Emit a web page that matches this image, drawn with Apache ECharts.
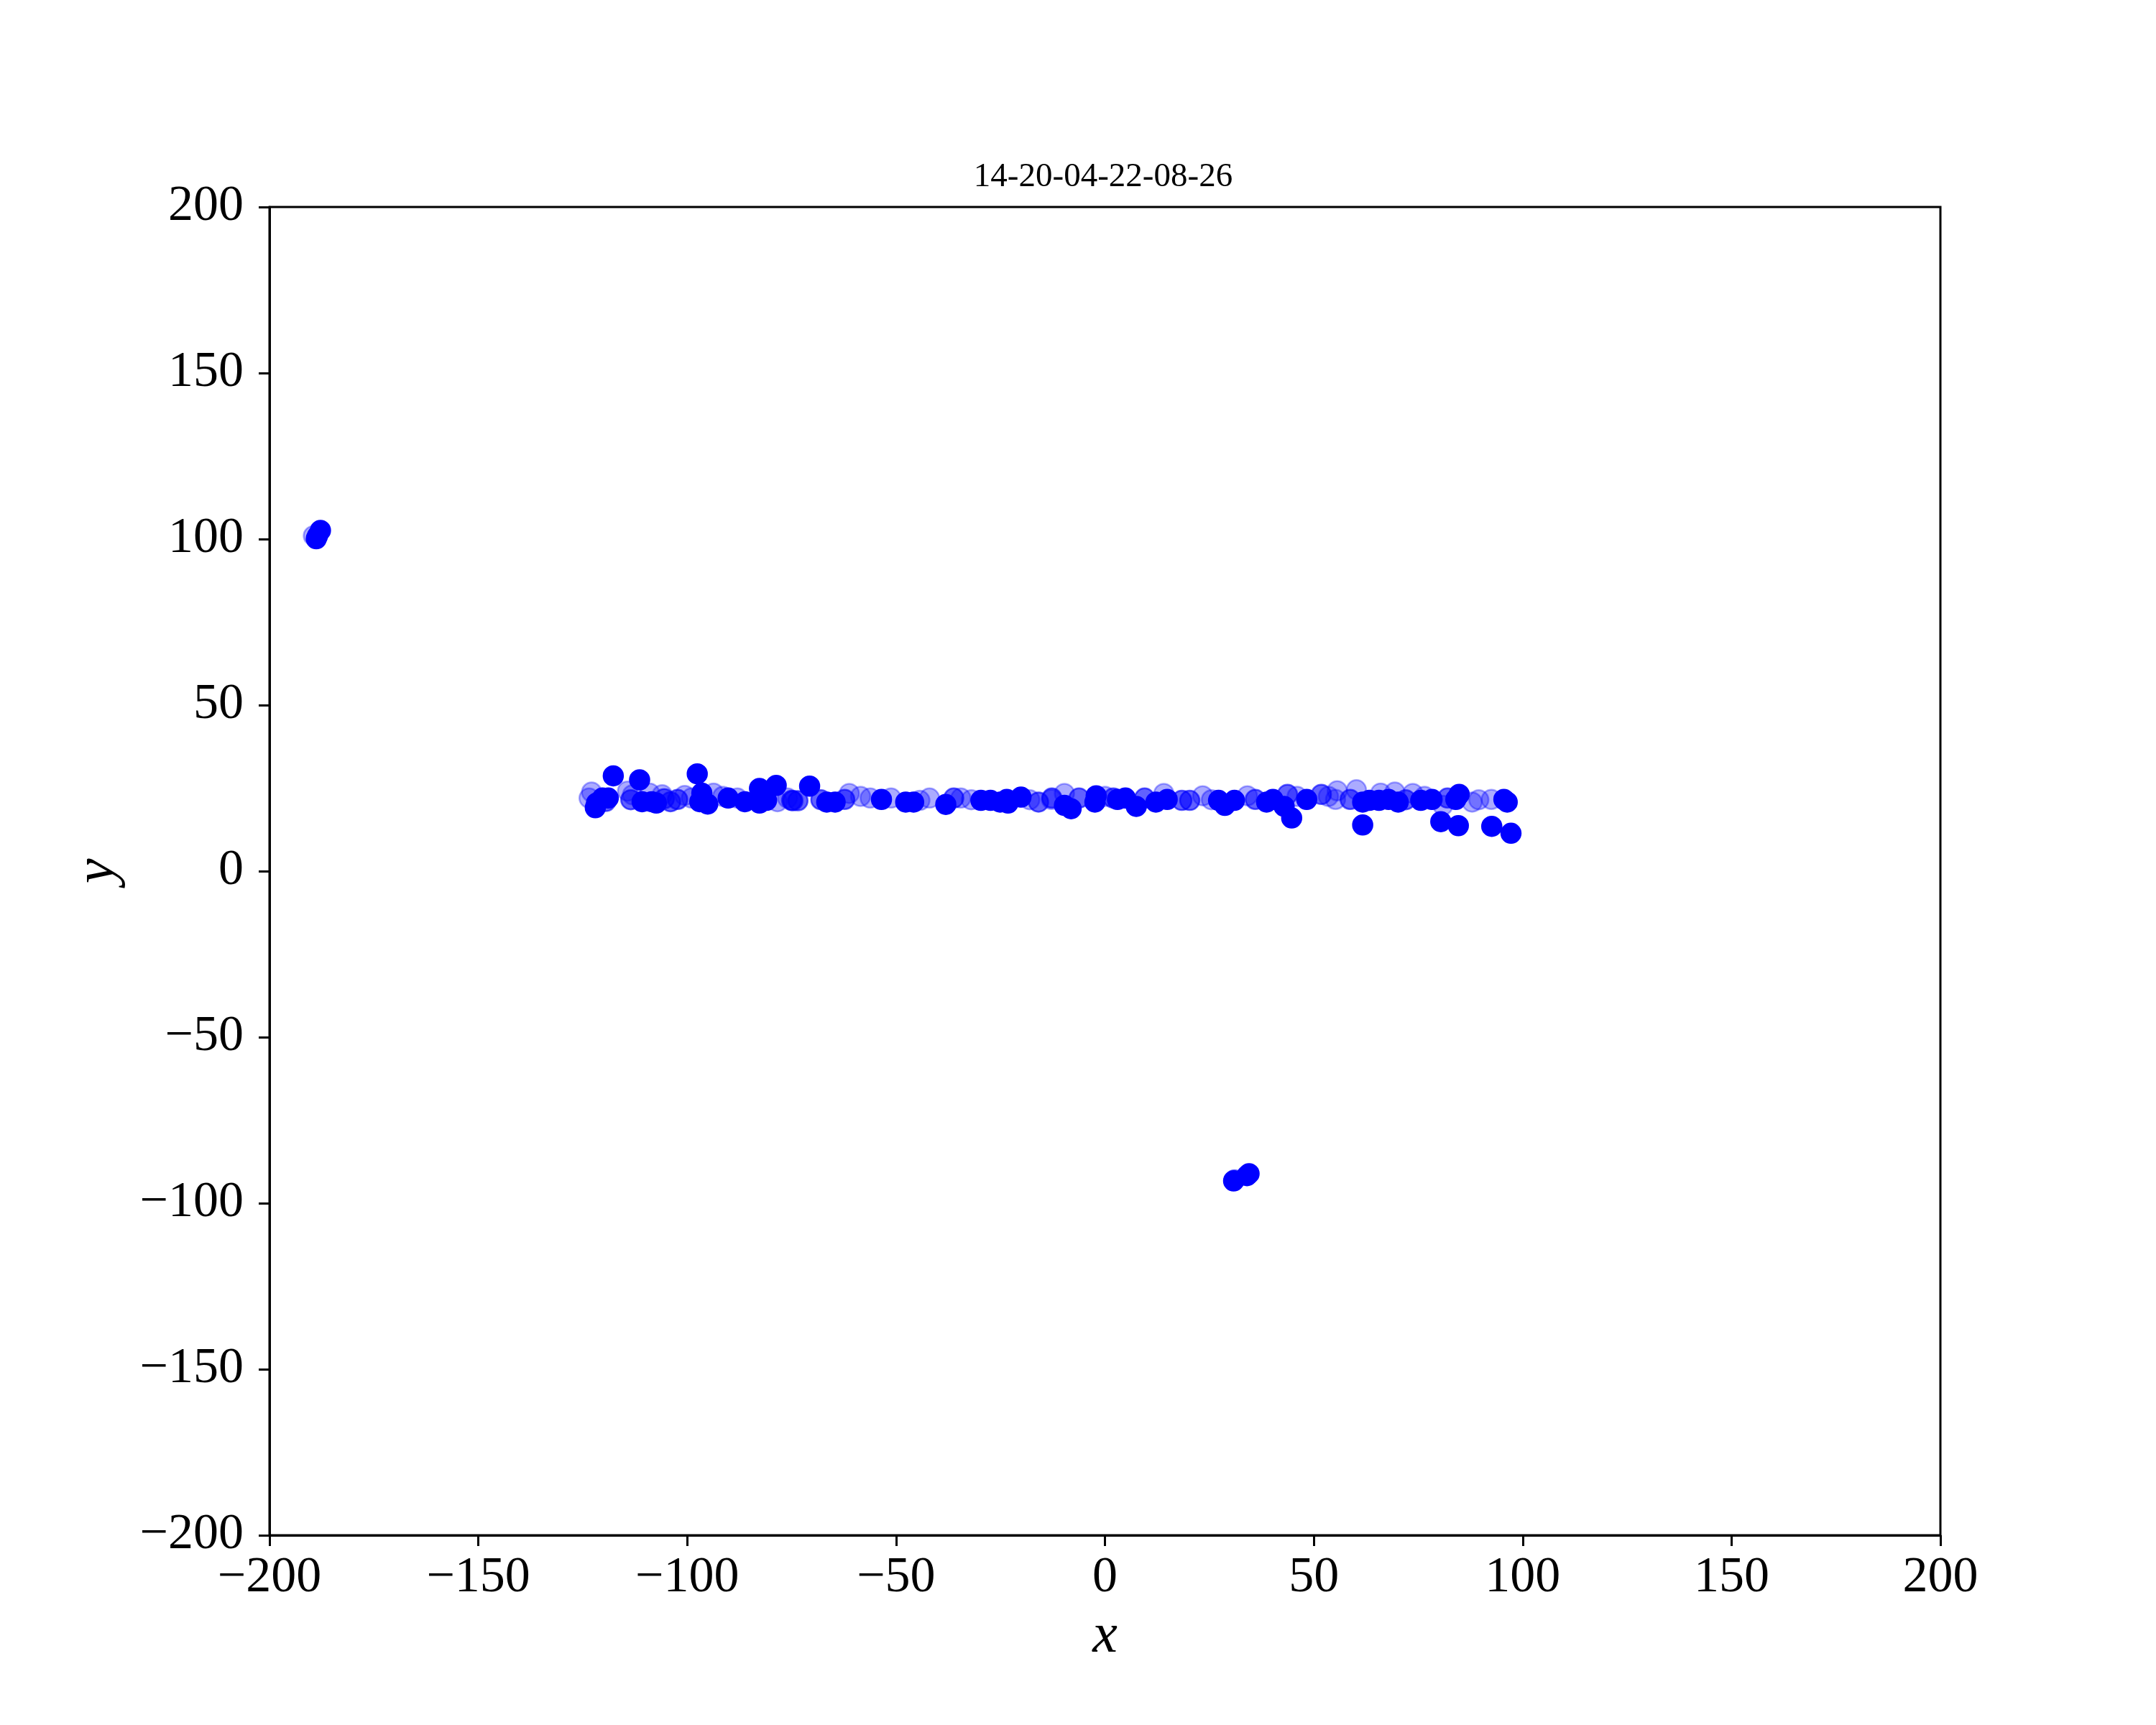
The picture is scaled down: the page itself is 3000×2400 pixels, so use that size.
<!DOCTYPE html>
<html>
<head>
<meta charset="utf-8">
<script src="https://cdn.jsdelivr.net/npm/echarts@6/dist/echarts.min.js"></script>
<style>html,body{margin:0;padding:0;background:#fff;}#c{width:3000px;height:2400px;}</style>
</head>
<body>
<div id="c"></div>
<script>
const titleText = '14-20-04-22-08-26';
const xTicks = [-200, -150, -100, -50, 0, 50, 100, 150, 200];
const yTicks = [-200, -150, -100, -50, 0, 50, 100, 150, 200];

const faintPoints = [
  [-189.5,101.0],
  [-122.9,23.8],[-114.3,24.1],[-113.1,23.0],[-100.6,22.8],[-93.7,23.5],[-78.4,20.9],[-123.5,22.0],[-109.0,23.5],[-106.0,23.0],[-99.0,22.0],[-91.5,22.5],[-88.0,22.0],[-76.0,22.0],
  [-61.2,23.4],[-56.2,22.0],[-51.2,22.0],[-44.3,21.3],[-42.0,22.0],[-12.8,21.6],[-58.5,22.5],[-34.5,22.0],[-32.0,21.5],[-18.0,21.5],
  [-9.7,23.4],[14.1,23.4],[23.4,22.7],[34.1,22.7],[55.2,21.6],[55.6,24.2],[60.2,24.5],[69.4,23.8],[73.7,23.4],[80.9,19.8],[87.9,20.8],[92.5,21.6],[0.0,22.5],[25.5,21.5],[46.0,22.5],[53.5,22.5],[66.0,23.5],[76.5,22.5],[89.5,21.5]
];
const semiPoints = [
  [31.0,-93.0],
  [-104.0,20.9],[-102.3,21.6],[-74.7,21.2],[-73.5,21.2],[-119.5,21.0],[-113.5,21.5],[-105.5,21.8],
  [-75.0,21.3],[-62.3,21.6],[-36.2,22.0],[-15.9,20.8],[-68.0,21.5],
  [-12.7,22.0],[-6.2,22.0],[9.5,22.0],[18.4,21.3],[20.3,21.3],[36.0,21.6],[43.7,23.1],[51.8,23.1],[58.7,21.6],[72.0,21.5],[82.0,22.0],[2.0,22.0]
];
const solidPoints = [
  [-188.8,100.1],[-187.8,102.6],[-188.5,101.0],
  [30.8,-93.3],[34.0,-91.7],[34.5,-91.1],
  [-121.7,20.5],[-122.0,19.1],[-120.3,22.0],[-118.9,22.0],[-117.7,28.7],[-111.4,27.5],[-97.6,29.3],[-108.5,20.9],[-107.4,20.5],[-110.8,20.9],[-96.5,23.5],[-97.0,20.9],[-95.1,20.2],[-90.2,22.0],[-86.2,20.9],[-82.7,24.9],[-78.7,25.8],[-70.7,25.6],[-82.7,20.5],[-81.0,21.3],
  [-66.6,20.8],[-64.6,20.8],[-53.5,21.6],[-47.7,20.8],[-45.8,20.8],[-38.1,20.1],[-29.7,21.3],[-27.4,21.3],[-25.1,20.8],[-23.2,20.5],[-23.5,21.6],[-20.1,22.3],[-9.7,19.8],
  [-8.1,18.8],[-2.1,22.7],[-2.4,20.8],[3.0,21.6],[4.9,22.0],[7.5,19.5],[12.2,20.8],[14.9,21.6],[27.2,21.3],[28.7,19.8],[31.0,21.3],[38.7,20.8],[40.2,21.6],[42.9,19.5],[44.7,16.0],[48.3,21.6],[61.7,20.8],[61.7,13.9],[63.3,21.3],[65.6,21.3],[67.9,21.6],[70.2,20.8],[75.6,21.3],[78.3,21.6],[80.4,14.9],[84.0,21.6],[84.8,23.1],[95.5,21.6],[96.3,20.8],[84.6,13.7],[92.6,13.5],[97.2,11.4]
];

const FONT = 'Liberation Serif';
const fmt = v => (v < 0 ? '\u2212' + Math.abs(v) : String(v));

function scatter(data, rgba) {
  return {
    type: 'scatter',
    data: data,
    symbol: 'circle',
    symbolSize: 27,
    silent: true,
    animation: false,
    itemStyle: { color: rgba, borderColor: rgba, borderWidth: 2.5, opacity: 1 }
  };
}

const chart = echarts.init(document.getElementById('c'), null, { renderer: 'canvas' });
chart.setOption({
  backgroundColor: '#fff',
  animation: false,
  title: {
    text: titleText,
    left: 1530, top: 218, textAlign: 'center',
    textStyle: { fontFamily: FONT, fontSize: 47, fontWeight: 'normal', color: '#000' }
  },
  grid: {
    left: 375, right: 300, top: 288, bottom: 264,
    show: true, borderColor: '#000', borderWidth: 3, backgroundColor: 'transparent'
  },
  xAxis: {
    type: 'value', min: xTicks[0], max: xTicks[xTicks.length - 1], interval: 50,
    name: 'x', nameLocation: 'middle', nameGap: 102,
    nameTextStyle: { fontFamily: FONT, fontStyle: 'italic', fontSize: 78, color: '#000' },
    axisLine: { show: true, onZero: false, lineStyle: { color: '#000', width: 3 } },
    axisTick: { show: true, inside: false, length: 15, lineStyle: { color: '#000', width: 3 } },
    axisLabel: { margin: 25, fontFamily: FONT, fontSize: 70, color: '#000', formatter: fmt },
    splitLine: { show: false }
  },
  yAxis: {
    type: 'value', min: yTicks[0], max: yTicks[yTicks.length - 1], interval: 50,
    name: 'y', nameLocation: 'middle', nameGap: 200, nameRotate: 90,
    nameTextStyle: { fontFamily: FONT, fontStyle: 'italic', fontSize: 78, color: '#000' },
    axisLine: { show: true, onZero: false, lineStyle: { color: '#000', width: 3 } },
    axisTick: { show: true, inside: false, length: 15, lineStyle: { color: '#000', width: 3 } },
    axisLabel: { margin: 36, fontFamily: FONT, fontSize: 70, color: '#000', formatter: fmt },
    splitLine: { show: false }
  },
  series: [
    scatter(faintPoints, 'rgba(0,0,255,0.33)'),
    scatter(semiPoints, 'rgba(0,0,255,0.62)'),
    scatter(solidPoints, 'rgba(0,0,255,1)')
  ]
});
</script>
</body>
</html>
